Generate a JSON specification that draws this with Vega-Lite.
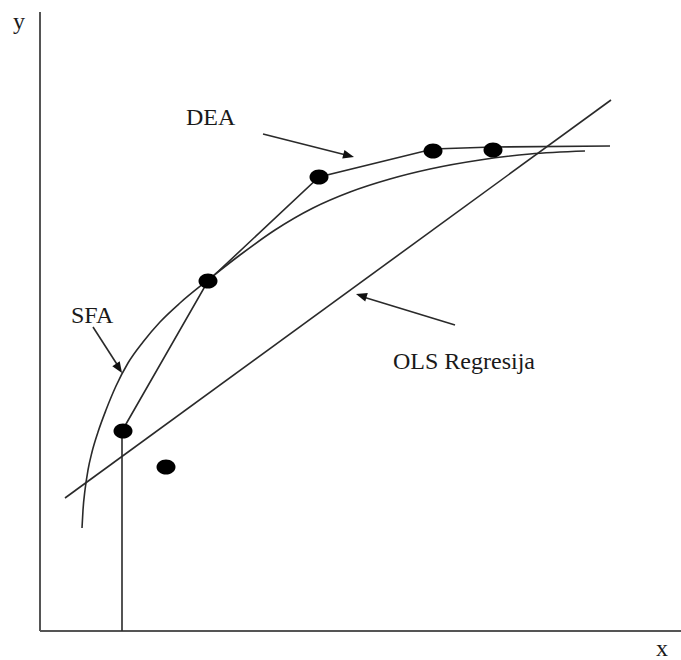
{
  "$schema": "https://vega.github.io/schema/vega-lite/v6.json",
  "autosize": {"type": "none"},
  "width": 681,
  "height": 660,
  "padding": 0,
  "background": "white",
  "config": {"view": {"stroke": null}, "axis": {"disable": true}},
  "datasets": {
    "axes": [
      {"x": 40, "y": 12, "x2": 40, "y2": 631},
      {"x": 40, "y": 631, "x2": 681, "y2": 631}
    ],
    "segs": [
      {"name": "OLS", "x": 65, "y": 498, "x2": 611, "y2": 100},
      {"name": "drop", "x": 122, "y": 431, "x2": 122, "y2": 631},
      {"name": "DEA arrow", "x": 263, "y": 134, "x2": 350, "y2": 156},
      {"name": "SFA arrow", "x": 93, "y": 327, "x2": 120, "y2": 369},
      {"name": "OLS arrow", "x": 455, "y": 325, "x2": 360, "y2": 296}
    ],
    "sfa": [
      {"x": 82, "y": 528}, {"x": 83, "y": 510}, {"x": 85, "y": 490}, {"x": 88, "y": 470},
      {"x": 92, "y": 452}, {"x": 98, "y": 432}, {"x": 106, "y": 410}, {"x": 116, "y": 386},
      {"x": 128, "y": 363}, {"x": 143, "y": 342}, {"x": 160, "y": 322}, {"x": 180, "y": 303},
      {"x": 208, "y": 280}, {"x": 240, "y": 255}, {"x": 275, "y": 230}, {"x": 313, "y": 208},
      {"x": 350, "y": 192}, {"x": 390, "y": 179}, {"x": 430, "y": 169}, {"x": 480, "y": 160},
      {"x": 530, "y": 154}, {"x": 585, "y": 151}
    ],
    "dea": [
      {"x": 122, "y": 431}, {"x": 208, "y": 281}, {"x": 319, "y": 177},
      {"x": 433, "y": 149}, {"x": 493, "y": 147}, {"x": 610, "y": 146}
    ],
    "dots": [
      {"x": 123, "y": 431}, {"x": 166, "y": 467}, {"x": 208, "y": 281},
      {"x": 319, "y": 177}, {"x": 433, "y": 151}, {"x": 493, "y": 150}
    ],
    "heads": [
      {"name": "DEA", "x": 354, "y": 157},
      {"name": "SFA", "x": 122, "y": 373},
      {"name": "OLS", "x": 356, "y": 294}
    ],
    "labels": [
      {"text": "y", "x": 13, "y": 29},
      {"text": "x", "x": 656, "y": 656},
      {"text": "DEA", "x": 186, "y": 125},
      {"text": "SFA", "x": 71, "y": 323},
      {"text": "OLS Regresija", "x": 393, "y": 369}
    ]
  },
  "layer": [
    {
      "data": {"name": "axes"},
      "mark": {"type": "rule", "color": "#555", "strokeWidth": 2},
      "encoding": {
        "x": {"field": "x", "type": "quantitative", "scale": {"domain": [0, 681], "nice": false, "zero": false}},
        "y": {"field": "y", "type": "quantitative", "scale": {"domain": [0, 660], "nice": false, "zero": false, "reverse": true}},
        "x2": {"field": "x2"},
        "y2": {"field": "y2"}
      }
    },
    {
      "data": {"name": "segs"},
      "mark": {"type": "rule", "color": "#2a2a2a", "strokeWidth": 1.6},
      "encoding": {
        "x": {"field": "x", "type": "quantitative"},
        "y": {"field": "y", "type": "quantitative"},
        "x2": {"field": "x2"},
        "y2": {"field": "y2"}
      }
    },
    {
      "data": {"name": "sfa"},
      "mark": {"type": "line", "color": "#2a2a2a", "strokeWidth": 1.6, "interpolate": "monotone"},
      "encoding": {
        "x": {"field": "x", "type": "quantitative"},
        "y": {"field": "y", "type": "quantitative"},
        "order": {"field": "x", "type": "quantitative"}
      }
    },
    {
      "data": {"name": "dea"},
      "mark": {"type": "line", "color": "#2a2a2a", "strokeWidth": 1.6},
      "encoding": {
        "x": {"field": "x", "type": "quantitative"},
        "y": {"field": "y", "type": "quantitative"},
        "order": {"field": "x", "type": "quantitative"}
      }
    },
    {
      "data": {"name": "dots"},
      "mark": {"type": "point", "filled": true, "color": "#000", "opacity": 1, "size": 361, "shape": "M-1,0 A1,0.8 0 1,0 1,0 A1,0.8 0 1,0 -1,0 Z"},
      "encoding": {
        "x": {"field": "x", "type": "quantitative"},
        "y": {"field": "y", "type": "quantitative"}
      }
    },
    {
      "data": {"name": "heads"},
      "transform": [{"filter": "datum.name === 'DEA'"}],
      "mark": {"type": "point", "filled": true, "color": "#111", "opacity": 1, "size": 484, "angle": 14.3, "shape": "M0,0 L-1,-0.4 L-1,0.4 Z"},
      "encoding": {
        "x": {"field": "x", "type": "quantitative"},
        "y": {"field": "y", "type": "quantitative"}
      }
    },
    {
      "data": {"name": "heads"},
      "transform": [{"filter": "datum.name === 'SFA'"}],
      "mark": {"type": "point", "filled": true, "color": "#111", "opacity": 1, "size": 484, "angle": 57.2, "shape": "M0,0 L-1,-0.4 L-1,0.4 Z"},
      "encoding": {
        "x": {"field": "x", "type": "quantitative"},
        "y": {"field": "y", "type": "quantitative"}
      }
    },
    {
      "data": {"name": "heads"},
      "transform": [{"filter": "datum.name === 'OLS'"}],
      "mark": {"type": "point", "filled": true, "color": "#111", "opacity": 1, "size": 484, "angle": 197, "shape": "M0,0 L-1,-0.4 L-1,0.4 Z"},
      "encoding": {
        "x": {"field": "x", "type": "quantitative"},
        "y": {"field": "y", "type": "quantitative"}
      }
    },
    {
      "data": {"name": "labels"},
      "mark": {"type": "text", "font": "Liberation Serif", "fontSize": 24, "color": "#1a1a1a", "align": "left", "baseline": "alphabetic"},
      "encoding": {
        "x": {"field": "x", "type": "quantitative"},
        "y": {"field": "y", "type": "quantitative"},
        "text": {"field": "text"}
      }
    }
  ]
}
